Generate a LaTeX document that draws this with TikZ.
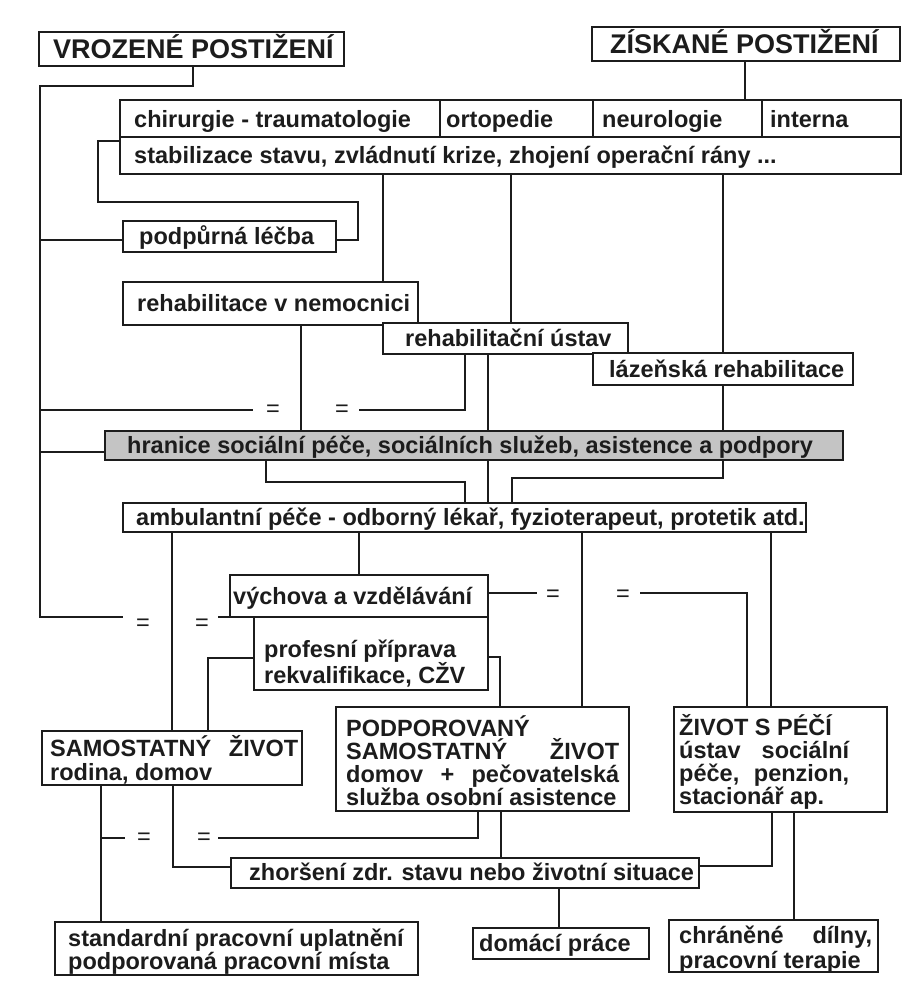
\documentclass[tikz,border=0pt]{standalone}
\usepackage{fontspec}
\setmainfont{Liberation Sans}
\pgfdeclarelayer{bg}
\pgfsetlayers{bg,main}
\definecolor{ink}{HTML}{1C1C1C}
\definecolor{greyfill}{HTML}{C4C4C4}
\newcommand\hdr{\fontsize{27}{29}\selectfont}
\newcommand\ml[2]{\parbox[t]{400pt}{\fontsize{23.5}{#1}\selectfont\raggedright #2}}
\newcommand\mkbox[9][]{%
 \pgfmathsetmacro\bxw{#5-#3}\pgfmathsetmacro\bxh{#6-#4}%
 \pgfmathsetmacro\bxcx{(#3+#5)/2}\pgfmathsetmacro\bxcy{(#4+#6)/2}%
 \pgfmathsetmacro\bxtx{#3+#7}%
 \node[box,minimum width=\bxw pt,minimum height=\bxh pt,#1] (#2) at (\bxcx,\bxcy) {};%
 \node[txt] (#2-t) at (\bxtx,#8) {#9};}
\tikzset{
 box/.style={draw=ink, line width=1.4pt, fill=white, inner sep=0pt, outer sep=0pt},
 txt/.style={anchor=base west, inner sep=0pt, text=ink, font=\bfseries\fontsize{23.5}{24}\selectfont},
 ln/.style={draw=ink, line width=1.4pt},
 eq/.style={inner sep=0pt, text=ink, font=\fontsize{23.5}{23.5}\selectfont},
}
\begin{document}
\begin{tikzpicture}[x=1pt,y=-1pt]
\useasboundingbox (0,0) rectangle (922,998);
% boxes
\mkbox{vroz}{39}{32}{344}{66}{14}{59}{\hdr VROZENÉ POSTIŽENÍ}
\mkbox{zisk}{592}{27}{900}{61}{18}{54}{\hdr ZÍSKANÉ POSTIŽENÍ}
\mkbox{chir}{120}{100}{440}{137}{14}{127}{chirurgie - traumatologie}
\mkbox{orto}{440}{100}{593}{137}{6}{127}{ortopedie}
\mkbox{neuro}{593}{100}{762}{137}{9}{127}{neurologie}
\mkbox{intern}{762}{100}{901}{137}{8}{127}{interna}
\mkbox{stab}{120}{137}{901}{174}{14}{163}{stabilizace stavu, zvládnutí krize, zhojení operační rány ...}
\mkbox{podp}{123}{221}{336}{252}{16}{244}{podpůrná léčba}
\mkbox{rehn}{123}{282}{418}{325}{14}{311}{rehabilitace v nemocnici}
\mkbox{rehu}{383}{323}{628}{354}{22}{346}{rehabilitační ústav}
\mkbox{laz}{593}{353}{853}{385}{16}{377}{lázeňská rehabilitace}
\mkbox[fill=greyfill]{hran}{105}{431}{843}{460}{22}{453}{hranice sociální péče, sociálních služeb, asistence a podpory}
\mkbox{amb}{123}{503}{806}{532}{13}{525}{ambulantní péče - odborný lékař, fyzioterapeut, protetik atd.}
\mkbox{vych}{230}{575}{488}{617}{3}{604}{výchova a vzdělávání}
\mkbox{prof}{254}{617}{488}{690}{10}{657}{\ml{25}{profesní příprava\\rekvalifikace, CŽV}}
\mkbox{samo}{42}{731}{302}{785}{8}{756}{\ml{24}{\makebox[248pt][s]{SAMOSTATNÝ ŽIVOT}\\rodina, domov}}
\mkbox{podpor}{336}{707}{629}{811}{10}{736}{\ml{23}{PODPOROVANÝ\\\makebox[273pt][s]{SAMOSTATNÝ ŽIVOT}\\\makebox[273pt][s]{domov + pečovatelská}\\služba osobní asistence}}
\mkbox{zivot}{674}{707}{887}{812}{5}{735}{\ml{23}{ŽIVOT S PÉČÍ\\\makebox[170pt][s]{ústav sociální}\\\makebox[170pt][s]{péče, penzion,}\\stacionář ap.}}
\mkbox{zhor}{231}{858}{699}{888}{18}{880}{zhoršení zdr. stavu nebo životní situace}
\mkbox{stand}{55}{922}{418}{975}{13}{946}{\ml{23}{standardní pracovní uplatnění\\podporovaná pracovní místa}}
\mkbox{dom}{473}{928}{649}{959}{6}{951}{domácí práce}
\mkbox{chran}{669}{920}{878}{972}{10}{943}{\ml{25}{\makebox[193pt][s]{chráněné dílny,}\\pracovní terapie}}
% equality marks
\node[eq] (e1) at (273,411) {=};
\node[eq] (e2) at (342,411) {=};
\node[eq] (e3) at (143,625) {=};
\node[eq] (e4) at (202,625) {=};
\node[eq] (e5) at (553,596) {=};
\node[eq] (e6) at (623,596) {=};
\node[eq] (e7) at (144,839) {=};
\node[eq] (e8) at (204,839) {=};
% connectors
\begin{pgfonlayer}{bg}
\fill[white] (0,0) rectangle (922,998);
\draw[ln] (193,0 |- vroz.south) |- (40,86) -- (40,617) -- (123,617);
\draw[ln] (40,240) -- (podp.west |- 0,240);
\draw[ln] (40,410) -- (253,410);
\draw[ln] (40,452) -- (hran.west |- 0,452);
\draw[ln] (218,617) -- (vych.south west);
\draw[ln] (745,0 |- zisk.south) -- (745,0 |- neuro.north);
\draw[ln] (stab.west |- 0,141) -- (98,141) -- (98,202) -- (358,202) -- (358,240) -- (podp.east |- 0,240);
\draw[ln] (383,0 |- stab.south) -- (rehu.north west);
\draw[ln] (511,0 |- stab.south) -- (511,0 |- rehu.north);
\draw[ln] (723,0 |- stab.south) -- (723,478) -- (512,478) -- (512,0 |- amb.north);
\draw[ln] (301,0 |- rehn.south) -- (301,0 |- hran.north);
\draw[ln] (359,410) -- (465,410) -- (465,0 |- rehu.south);
\draw[ln] (488,0 |- rehu.south) -- (488,0 |- amb.north);
\draw[ln] (266,0 |- hran.south) -- (266,482) -- (465,482) -- (465,0 |- amb.north);
\draw[ln] (172,0 |- amb.south) -- (172,0 |- samo.north);
\draw[ln] (359,0 |- amb.south) -- (359,0 |- vych.north);
\draw[ln] (582,0 |- amb.south) -- (582,0 |- podpor.north);
\draw[ln] (771,0 |- amb.south) -- (771,0 |- zivot.north);
\draw[ln] (vych.east |- 0,593) -- (537,593);
\draw[ln] (640,593) -- (747,593) -- (747,0 |- zivot.north);
\draw[ln] (prof.west |- 0,658) -- (208,658) -- (208,0 |- samo.north);
\draw[ln] (prof.east |- 0,657) -- (500,657) -- (500,0 |- podpor.north);
\draw[ln] (101,0 |- samo.south) -- (101,0 |- stand.north);
\draw[ln] (101,838) -- (125,838);
\draw[ln] (218,838) -- (478,838) -- (478,0 |- podpor.south);
\draw[ln] (173,0 |- samo.south) -- (173,867) -- (zhor.west |- 0,867);
\draw[ln] (501,0 |- podpor.south) -- (501,0 |- zhor.north);
\draw[ln] (772,0 |- zivot.south) -- (772,866) -- (zhor.east |- 0,866);
\draw[ln] (794,0 |- zivot.south) -- (794,0 |- chran.north);
\draw[ln] (559,0 |- zhor.south) -- (559,0 |- dom.north);
\end{pgfonlayer}
\end{tikzpicture}
\end{document}
